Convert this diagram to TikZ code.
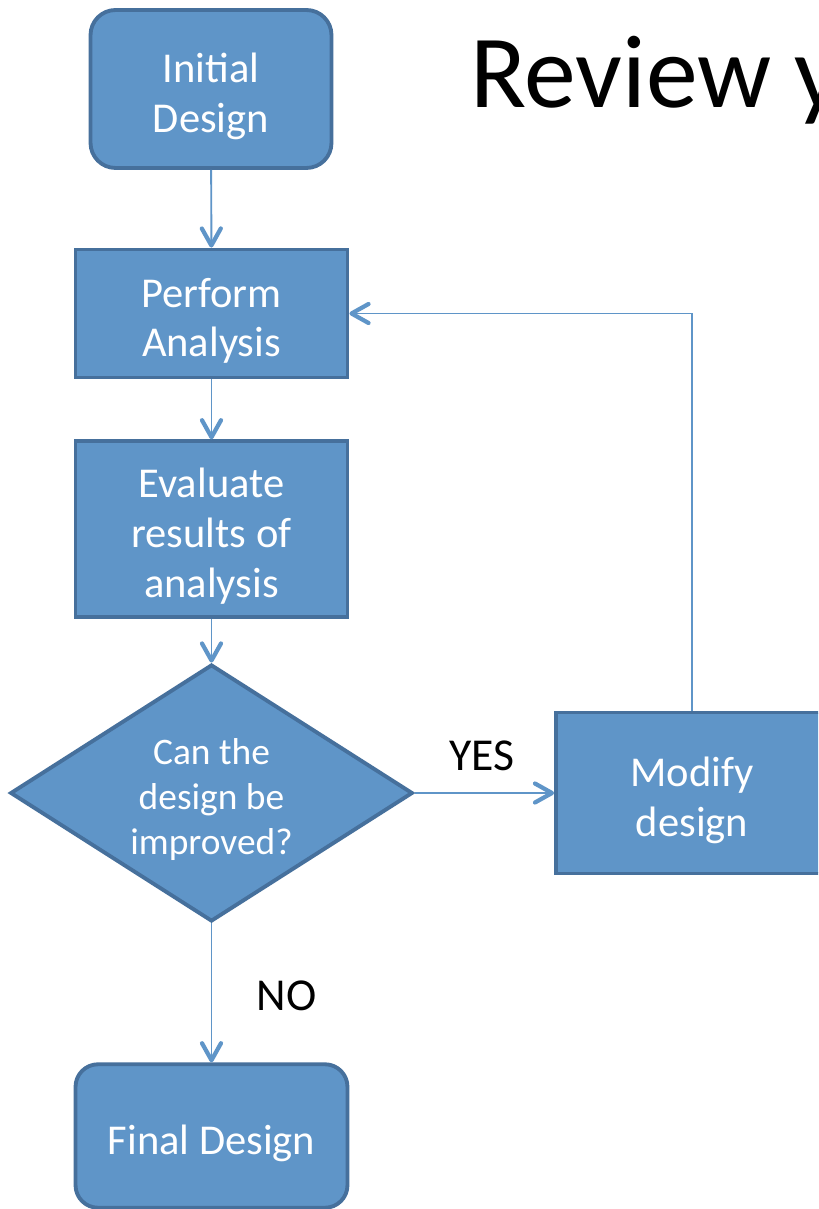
\documentclass[tikz,border=0pt]{standalone}
\usepackage{fontspec}
\setmainfont{Carlito}
\usetikzlibrary{arrows.meta,shapes.geometric}
\definecolor{boxfill}{HTML}{5F95C8}
\definecolor{boxline}{HTML}{46709C}
\definecolor{arrowline}{HTML}{5F95C8}
% extra room above the first line, pushes box text down a little
\newcommand{\lift}[1]{\rule{0pt}{#1}}
\begin{document}
\begin{tikzpicture}[
    x=0.02cm, y=-0.02cm,
    box/.style={draw=boxline, fill=boxfill, line width=2.2pt, minimum width=5.44cm, text=white, font=\fontsize{24.2}{28.4}\selectfont, align=center, inner sep=0pt},
    term/.style={box, rounded corners=0.5cm},
    decision/.style={diamond, draw=boxline, fill=boxfill, line width=2.2pt, minimum width=8.05cm, minimum height=5.14cm, aspect=1.57, inner sep=0pt, text=white, font=\fontsize{21.3}{25.5}\selectfont, align=center},
    arrow/.style={arrowline, line width=1.1pt, -{Straight Barb[length=3.4mm, width=3.8mm, line width=2.4pt, round]}},
    label/.style={font=\fontsize{26}{31}\selectfont}
]
    \clip (0,0) rectangle (818,1209);
    \fill[white] (0,0) rectangle (818,1209);

    \node[font=\fontsize{59}{71}\selectfont, anchor=base west] (title) at (464,108) {Review y};

    \node[term, minimum width=4.82cm, minimum height=3.16cm] (init) at (211,89) {\lift{25pt}Initial\\Design};
    \node[box, minimum height=2.56cm] (perform) at (211.5,313.5) {\lift{25pt}Perform\\Analysis};
    \node[box, minimum height=3.51cm] (eval) at (211.5,529) {\lift{25pt}Evaluate\\results of\\analysis};
    \node[decision] (check) at (211.5,793) {\lift{22.5pt}Can the\\design be\\improved?};
    \node[box, minimum height=3.22cm] (modify) at (692,793) {\lift{25pt}Modify\\design};
    \node[term, minimum height=2.87cm, rounded corners=0.45cm] (final) at (211.5,1136) {\lift{25pt}Final Design};

    \draw[arrow] (init) -- (perform);
    \draw[arrow] (perform) -- (eval);
    \draw[arrow] (eval) -- (check);
    \draw[arrow] (check) -- node[label, black, above=9pt, pos=0.48] {YES} (modify);
    \draw[arrow] (check) -- node[label, black, right=22pt, pos=0.52] {NO} (final);
    \draw[arrow] (modify.north) |- (perform.east);
\end{tikzpicture}
\end{document}
